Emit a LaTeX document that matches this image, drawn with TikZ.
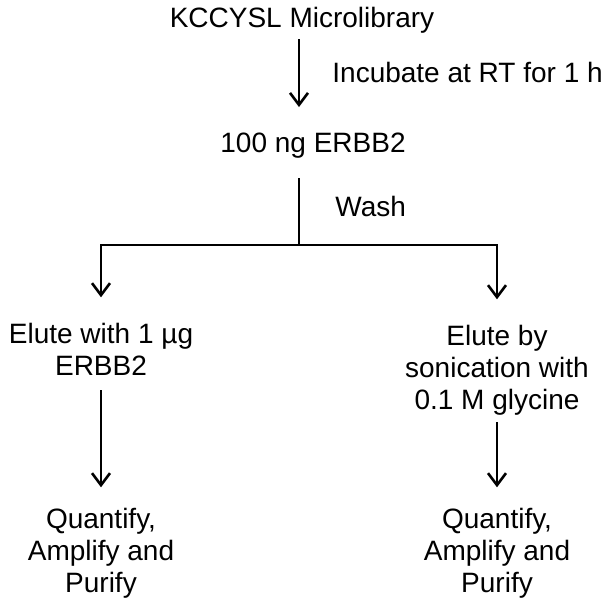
\documentclass[tikz,border=0pt]{standalone}
\usepackage{fontspec}
\setmainfont{Liberation Sans}
\usetikzlibrary{arrows.meta,positioning}
\tikzset{
    flow chart/.style = {x=0.5pt, y=-0.5pt,
                         >={Straight Barb[length=6pt,width=9pt]}},
    line/.style       = {line width=1.3pt},
    stage/.style      = {align=center, inner sep=0pt, anchor=base,
                         font=\fontsize{14pt}{16pt}\selectfont},
    note/.style       = {stage, anchor=base west}
}

\begin{document}
\begin{tikzpicture}[flow chart]
\useasboundingbox (0,0) rectangle (611,610);

% Stages of the selection (base = last line)
\node[stage] (lib) at (302,28) {KCCYSL Microlibrary};
\node[stage] (erbb) at (313,153) {100 ng ERBB2};
\node[stage] (eluteL) at (101,375) {Elute with 1 µg\\ERBB2};
\node[stage] (eluteR) at (497,409) {Elute by\\sonication with\\0.1 M glycine};
\node[stage] (quantL) at (101,592) {Quantify,\\Amplify and\\Purify};
\node[stage] (quantR) at (497,592) {Quantify,\\Amplify and\\Purify};

% Step labels beside the trunk
\node[note] (incub) at (332,83) {Incubate at RT for 1 h};
\node[note] (wash) at (335,217) {Wash};

% Trunk and branch point
\coordinate (split) at (299,245);
\draw[->, line, shorten <=2.5pt, shorten >=13pt]
    (lib.south -| split) -- (erbb.north -| split);
\draw[line, shorten <=9.5pt] (erbb.south -| split) -- (split);
\draw[->, line, shorten >=12.5pt] (split) -| (eluteL.north);
\draw[->, line, shorten >=12.5pt] (split) -| (eluteR.north);

% Down to the recovery step
\draw[->, line, shorten <=7.5pt, shorten >=10pt] (eluteL) -- (quantL);
\draw[->, line, shorten <=3.5pt, shorten >=10pt] (eluteR) -- (quantR);

\end{tikzpicture}
\end{document}
